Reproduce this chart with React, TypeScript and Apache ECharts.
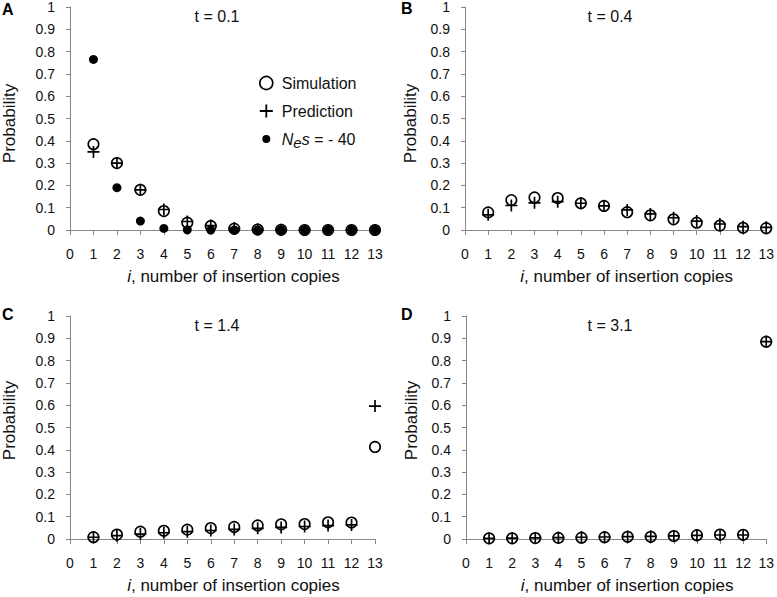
import React, { useEffect, useRef } from "react";
import * as echarts from "echarts";

// Data
const copies = [1, 2, 3, 4, 5, 6, 7, 8, 9, 10, 11, 12, 13];
const panelLetters = ["A", "B", "C", "D"];
const panelTimes = ["t = 0.1", "t = 0.4", "t = 1.4", "t = 3.1"];

const simA = [0.385, 0.3, 0.18, 0.085, 0.033, 0.018, 0.006, 0.002, 0.001, 0, 0, 0, 0];
const predA = [0.35, 0.3, 0.18, 0.092, 0.038, 0.02, 0.008, 0.003, 0.001, 0, 0, 0, 0];
const nesA = [0.765, 0.19, 0.04, 0.007, 0.001, 0, 0, 0, 0, 0, 0, 0, 0];

const simB = [0.079, 0.134, 0.146, 0.143, 0.12, 0.108, 0.08, 0.066, 0.048, 0.033, 0.02, 0.01, 0.008];
const predB = [0.068, 0.11, 0.122, 0.127, 0.12, 0.108, 0.09, 0.072, 0.055, 0.04, 0.027, 0.015, 0.012];

const simC = [0.008, 0.02, 0.033, 0.037, 0.042, 0.049, 0.054, 0.061, 0.066, 0.067, 0.075, 0.074, 0.413];
const predC = [0.008, 0.015, 0.022, 0.028, 0.033, 0.038, 0.043, 0.048, 0.052, 0.056, 0.06, 0.063, 0.596];

const simD = [0.003, 0.003, 0.004, 0.005, 0.006, 0.008, 0.01, 0.01, 0.013, 0.017, 0.02, 0.019, 0.885];
const predD = [0.003, 0.004, 0.005, 0.006, 0.008, 0.009, 0.011, 0.012, 0.014, 0.016, 0.018, 0.018, 0.885];

const FONT = "'Liberation Sans', Arial, Helvetica, sans-serif";
const AXIS_COLOR = "#878787";
const CROSS = "path://M4.3,0H5.7V10H4.3Z M0,4.3H10V5.7H0Z";
const SMALL_DOT =
  "path://M0,0L0.01,0L0,0.01Z M13,13L12.99,13L13,12.99Z M2.5,6.5A4,4 0 1,0 10.5,6.5A4,4 0 1,0 2.5,6.5Z";

const pairs = (vals: number[]) => copies.map((c, k) => [c, vals[k]]);

export default function App() {
  const ref = useRef<HTMLDivElement>(null);

  useEffect(() => {
    if (!ref.current) return;
    const chart = echarts.init(ref.current, undefined, { renderer: "svg" });

    const grids = [
      { left: 70, top: 6, width: 305, height: 224 },
      { left: 465, top: 6, width: 303, height: 224 },
      { left: 70, top: 316, width: 305, height: 223 },
      { left: 466, top: 316, width: 302, height: 223 },
    ];
    const yNameGap = [52, 46, 52, 46];
    const yNamePad = [
      [0, 10, 0, 0],
      [0, 10, 0, 0],
      [0, 0, 0, 14],
      [0, 0, 0, 14],
    ];

    const xAxes = grids.map((_, g) => ({
      type: "value",
      gridIndex: g,
      min: 0,
      max: 13,
      interval: 1,
      splitLine: { show: false },
      axisLine: { show: true, onZero: false, lineStyle: { color: AXIS_COLOR, width: 1 } },
      axisTick: { show: true, length: 5, lineStyle: { color: AXIS_COLOR } },
      axisLabel: { fontSize: 14, color: "#111", fontFamily: FONT, margin: 17 },
      name: "{it|i}, number of insertion copies",
      nameLocation: "middle",
      nameGap: 38,
      nameTextStyle: {
        fontSize: 17,
        color: "#111",
        fontFamily: FONT,
        padding: [0, 0, 0, 22],
        rich: { it: { fontStyle: "italic", fontSize: 17, fontFamily: FONT, color: "#111" } },
      },
    }));

    const yAxes = grids.map((_, g) => ({
      type: "value",
      gridIndex: g,
      min: 0,
      max: 1,
      interval: 0.1,
      splitLine: { show: false },
      axisLine: { show: true, lineStyle: { color: AXIS_COLOR, width: 1 } },
      axisTick: { show: true, length: 4, lineStyle: { color: AXIS_COLOR } },
      axisLabel: { fontSize: 14, color: "#111", fontFamily: FONT, margin: 15 },
      name: "Probability",
      nameLocation: "middle",
      nameGap: yNameGap[g],
      nameTextStyle: { fontSize: 17, color: "#111", fontFamily: FONT, padding: yNamePad[g] },
    }));

    const simStyle = {
      type: "scatter",
      name: "Simulation",
      symbol: "circle",
      symbolSize: 10.5,
      itemStyle: { color: "transparent", borderColor: "#000", borderWidth: 1.6, opacity: 1 },
      z: 3,
    };
    const predStyle = {
      type: "scatter",
      name: "Prediction",
      symbol: CROSS,
      symbolSize: 12,
      itemStyle: { color: "#000", opacity: 1 },
      z: 2,
    };

    const sims = [simA, simB, simC, simD];
    const preds = [predA, predB, predC, predD];
    const series: any[] = [];
    sims.forEach((s, g) => {
      series.push({ ...predStyle, xAxisIndex: g, yAxisIndex: g, data: pairs(preds[g]) });
      series.push({ ...simStyle, xAxisIndex: g, yAxisIndex: g, data: pairs(s) });
    });
    series.push({
      type: "scatter",
      name: "Nes",
      symbol: "circle",
      symbolSize: 9,
      xAxisIndex: 0,
      yAxisIndex: 0,
      itemStyle: { color: "#000", opacity: 1 },
      z: 4,
      data: pairs(nesA),
    });

    const letterPos = [
      [2, 9],
      [401, 8],
      [2, 314],
      [401, 314],
    ];
    const timePos = [
      [217, 16],
      [610, 16],
      [217, 325],
      [610, 325],
    ];
    const graphic: any[] = [];
    panelLetters.forEach((l, k) => {
      graphic.push({
        type: "text",
        x: letterPos[k][0],
        y: letterPos[k][1],
        style: {
          text: l,
          fill: "#000",
          font: `bold 16px ${FONT}`,
          align: "left",
          verticalAlign: "middle",
          textAlign: "left",
          textVerticalAlign: "middle",
        },
      });
    });
    panelTimes.forEach((t, k) => {
      graphic.push({
        type: "text",
        x: timePos[k][0],
        y: timePos[k][1],
        style: {
          text: t,
          fill: "#111",
          font: `16px ${FONT}`,
          align: "center",
          verticalAlign: "middle",
          textAlign: "center",
          textVerticalAlign: "middle",
        },
      });
    });

    chart.setOption({
      animation: false,
      backgroundColor: "#fff",
      textStyle: { fontFamily: FONT },
      grid: grids.map((g) => ({ ...g, containLabel: false })),
      xAxis: xAxes,
      yAxis: yAxes,
      legend: {
        show: true,
        orient: "vertical",
        left: 259,
        top: 75,
        padding: 0,
        itemGap: 12,
        itemWidth: 13,
        itemHeight: 13,
        selectedMode: false,
        data: [
          {
            name: "Simulation",
            icon: "circle",
            itemStyle: { color: "transparent", borderColor: "#000", borderWidth: 1.6 },
          },
          { name: "Prediction", icon: CROSS, itemStyle: { color: "#000" } },
          { name: "Nes", icon: SMALL_DOT, itemStyle: { color: "#000" } },
        ],
        formatter: (name: string) =>
          name === "Nes" ? "{i|N}{sub|e}{i|s} = - 40" : name,
        textStyle: {
          fontSize: 16,
          color: "#111",
          fontFamily: FONT,
          lineHeight: 16,
          padding: [0, 0, 0, 4],
          rich: {
            i: { fontStyle: "italic", fontSize: 16, fontFamily: FONT, color: "#111" },
            sub: {
              fontStyle: "italic",
              fontSize: 15,
              fontFamily: FONT,
              color: "#111",
              padding: [7, 0, 0, 0],
            },
          },
        },
      },
      graphic,
      series,
    });

    return () => chart.dispose();
  }, []);

  return (
    <div
      ref={ref}
      style={{ position: "fixed", left: 0, top: 0, width: 777, height: 597, background: "#fff" }}
    />
  );
}
